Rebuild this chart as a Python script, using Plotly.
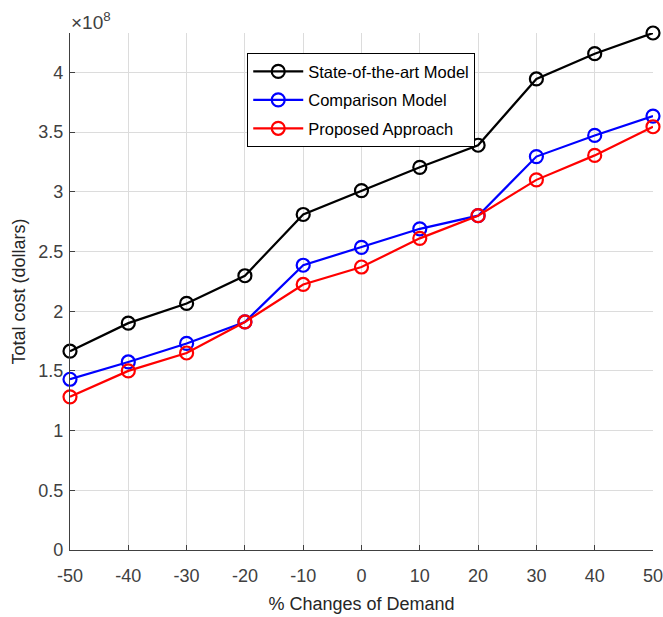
import plotly.graph_objects as go

demand_change = [-50, -40, -30, -20, -10, 0, 10, 20, 30, 40, 50]
state_of_art = [1.665, 1.90, 2.065, 2.297, 2.81, 3.01, 3.205, 3.39, 3.945, 4.157, 4.33]
comparison = [1.43, 1.575, 1.73, 1.91, 2.385, 2.535, 2.69, 2.80, 3.295, 3.472, 3.634]
proposed = [1.283, 1.50, 1.65, 1.91, 2.224, 2.37, 2.61, 2.80, 3.10, 3.305, 3.545]

y_ticks = [0, 0.5, 1, 1.5, 2, 2.5, 3, 3.5, 4]
y_tick_labels = ["0", "0.5", "1", "1.5", "2", "2.5", "3", "3.5", "4"]
x_ticks = demand_change

series = [
    ("State-of-the-art Model", state_of_art, "#000000"),
    ("Comparison Model", comparison, "#0000ff"),
    ("Proposed Approach", proposed, "#ff0000"),
]

FONT = "Liberation Sans, Arial, Helvetica, sans-serif"

fig = go.Figure()
for i, (name, vals, col) in enumerate(series):
    fig.add_trace(go.Scatter(
        x=demand_change, y=vals, name=name, mode="lines+markers",
        legendgroup="g%d" % i,
        line=dict(color=col, width=2.2),
        marker=dict(symbol="circle-open", size=13, color=col, line=dict(width=2.2, color=col)),
        cliponaxis=False,
    ))

axis_common = dict(
    showgrid=True, gridcolor="#dcdcdc", gridwidth=1,
    showline=True, linecolor="#404040", linewidth=1.3,
    ticks="inside", ticklen=5, tickcolor="#404040",
    tickfont=dict(family=FONT, size=18, color="#404040"),
    zeroline=False, mirror=False, automargin=False,
    ticklabeloverflow="allow",
)

fig.update_xaxes(
    range=[-50, 50], tickvals=x_ticks, ticktext=[str(v) for v in x_ticks],
    ticklabelstandoff=9,
    title=dict(text="% Changes of Demand", font=dict(family=FONT, size=18, color="#262626"), standoff=12),
    **axis_common,
)
fig.update_yaxes(
    range=[0, 4.33], tickvals=y_ticks, ticktext=y_tick_labels,
    ticklabelstandoff=2,
    title=dict(text="Total cost (dollars)", font=dict(family=FONT, size=18, color="#262626"), standoff=7),
    **axis_common,
)

fig.add_annotation(
    x=0, y=1, xref="paper", yref="paper", xanchor="left", yanchor="bottom",
    text="×10<sup>8</sup>", showarrow=False, xshift=-1, yshift=-2,
    font=dict(family=FONT, size=19, color="#404040"),
)

fig.update_layout(
    width=663, height=617,
    margin=dict(l=70, r=10, t=33, b=67),
    paper_bgcolor="white", plot_bgcolor="white",
    showlegend=True,
    legend=dict(
        x=0.304, y=0.961, xanchor="left", yanchor="top",
        bgcolor="white", bordercolor="#000000", borderwidth=1,
        font=dict(family=FONT, size=16.5, color="#000000"),
        tracegroupgap=4, itemwidth=50,
    ),
    font=dict(family=FONT),
)

fig.write_html("out.html")
